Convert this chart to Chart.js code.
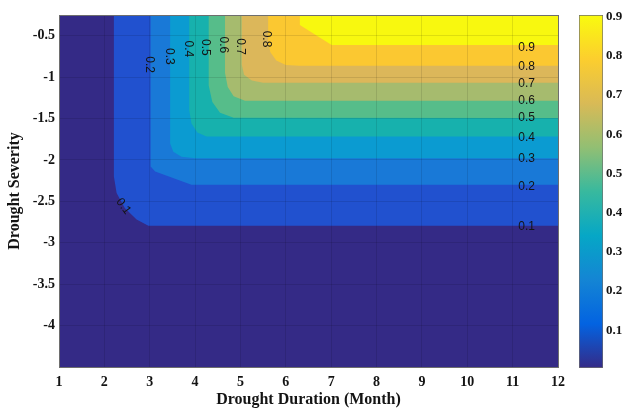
<!DOCTYPE html>
<html>
<head>
<meta charset="utf-8">
<script src="https://cdn.jsdelivr.net/npm/chart.js@4/dist/chart.umd.min.js"></script>
<style>
  html, body { margin: 0; padding: 0; background: #ffffff; }
  #wrap { position: relative; width: 627px; height: 410px; }
  #main { position: absolute; left: 0; top: 0; }
  #cbar { position: absolute; left: 560px; top: 0; }
</style>
</head>
<body>
<div id="wrap">
  <canvas id="main" width="627" height="410"></canvas>
  <canvas id="cbar" width="67" height="410"></canvas>
</div>
<script>
// ---------- axis limits and ticks ----------
const xMin = 1, xMax = 12;
const yMin = -4.5, yMax = -0.25;
const xTicks = [1, 2, 3, 4, 5, 6, 7, 8, 9, 10, 11, 12];
const yTicks = [-4, -3.5, -3, -2.5, -2, -1.5, -1, -0.5];

// ---------- contour levels ----------
const levels = [0.1, 0.2, 0.3, 0.4, 0.5, 0.6, 0.7, 0.8, 0.9];

// contour line vertices (x = duration, y = severity)
const contour01 = [[2.21, -0.25], [2.21, -2.20], [2.27, -2.40], [2.45, -2.58], [2.71, -2.72], [2.97, -2.796], [12, -2.796]];
const contour02 = [[3.02, -0.25], [3.02, -2.08], [3.12, -2.14], [3.92, -2.30], [12, -2.30]];
const contour03 = [[3.45, -0.25], [3.45, -1.80], [3.52, -1.90], [3.70, -1.96], [4.00, -1.98], [12, -1.98]];
const contour04 = [[3.87, -0.25], [3.87, -1.40], [3.92, -1.56], [4.05, -1.67], [4.25, -1.718], [12, -1.718]];
const contour05 = [[4.30, -0.25], [4.30, -1.10], [4.38, -1.30], [4.55, -1.43], [4.85, -1.49], [12, -1.493]];
const contour06 = [[4.66, -0.25], [4.66, -0.95], [4.72, -1.12], [4.85, -1.23], [5.10, -1.284], [12, -1.284]];
const contour07 = [[5.03, -0.25], [5.03, -0.85], [5.08, -0.97], [5.25, -1.04], [5.50, -1.067], [12, -1.067]];
const contour08 = [[5.61, -0.25], [5.61, -0.59], [5.66, -0.70], [5.79, -0.80], [6.00, -0.855], [6.30, -0.862], [12, -0.862]];
const contour09 = [[6.31, -0.25], [6.31, -0.37], [7.01, -0.612], [12, -0.612]];
const contours = [contour01, contour02, contour03, contour04, contour05, contour06, contour07, contour08, contour09];

// contour label positions (data coordinates)
const rightLabelX = 11.31;
const rightLabelY = [-2.804, -2.325, -1.987, -1.73, -1.493, -1.288, -1.083, -0.874, -0.645];
const topLabelLevels = [0.2, 0.3, 0.4, 0.5, 0.6, 0.7, 0.8];
const topLabelX = [2.99, 3.43, 3.85, 4.23, 4.62, 5.00, 5.56];
const topLabelY = [-0.85, -0.75, -0.66, -0.64, -0.61, -0.63, -0.54];
const cornerLabelLevel = 0.1;
const cornerLabelX = 2.42;
const cornerLabelY = -2.56;

// ---------- colour bar ----------
const cbMin = 0.004, cbMax = 0.904;
const cbTicks = [0.1, 0.2, 0.3, 0.4, 0.5, 0.6, 0.7, 0.8, 0.9];

// ---------- styles ----------
const baseColor = '#342a86';
const bandColors = ['#2151cf', '#1979d7', '#0b9bd1', '#17b1ad', '#56bd8a', '#a6bb6e', '#dcb75a', '#fbc831', '#f8f80f'];
const parulaStops = [[0, '#352a87'], [0.125, '#0363e1'], [0.25, '#1485d4'], [0.375, '#06a7c6'], [0.5, '#38b99e'], [0.625, '#92bf73'], [0.75, '#d9ba56'], [0.875, '#fcce2e'], [1, '#f9fb0e']];
const serifBold = '"Liberation Serif", "Times New Roman", serif';
const sansFont = '"Liberation Sans", Arial, sans-serif';
const gridColor = 'rgba(0,0,0,0.1)';
const axisColor = '#6e6e6e';
const textColor = '#141414';

// ---------- datasets ----------
const toPts = arr => arr.map(([x, y]) => ({ x, y }));
const datasets = [{
  label: 'base',
  data: toPts([[xMin, yMin], [xMax, yMin], [xMax, yMax], [xMin, yMax]]),
  showLine: true, fill: 'shape', backgroundColor: baseColor,
  borderWidth: 0, pointRadius: 0, order: 20
}];
contours.forEach((c, i) => {
  datasets.push({
    label: 'level ' + levels[i],
    data: toPts(c.concat([[xMax, yMax]])),
    showLine: true, fill: 'shape', backgroundColor: bandColors[i],
    borderWidth: 0, pointRadius: 0, order: 10 - i
  });
});

const labelPlugin = {
  id: 'contourLabels',
  afterDraw(chart) {
    const { ctx, scales: { x, y } } = chart;
    ctx.save();
    ctx.fillStyle = textColor;
    ctx.font = '12px ' + sansFont;
    ctx.textAlign = 'center';
    ctx.textBaseline = 'middle';
    levels.forEach((lv, i) => {
      ctx.fillText(lv.toFixed(1), x.getPixelForValue(rightLabelX), y.getPixelForValue(rightLabelY[i]));
    });
    topLabelLevels.forEach((lv, i) => {
      ctx.save();
      ctx.translate(x.getPixelForValue(topLabelX[i]), y.getPixelForValue(topLabelY[i]));
      ctx.rotate(Math.PI / 2);
      ctx.fillText(lv.toFixed(1), 0, 0);
      ctx.restore();
    });
    ctx.save();
    ctx.translate(x.getPixelForValue(cornerLabelX), y.getPixelForValue(cornerLabelY));
    ctx.rotate(Math.PI * 0.3);
    ctx.fillText(cornerLabelLevel.toFixed(1), 0, 0);
    ctx.restore();
    ctx.restore();
  }
};

const tickFont = { family: serifBold, size: 14, weight: 'bold' };
const titleFont = { family: serifBold, size: 16, weight: 'bold' };

new Chart(document.getElementById('main'), {
  type: 'scatter',
  data: { datasets },
  options: {
    responsive: false, animation: false, devicePixelRatio: 1,
    layout: { padding: { left: 0, top: 15, right: 69, bottom: 0 } },
    plugins: { legend: { display: false }, tooltip: { enabled: false } },
    scales: {
      x: {
        type: 'linear', position: 'bottom', min: xMin, max: xMax,
        afterBuildTicks: s => { s.ticks = xTicks.map(v => ({ value: v })); },
        afterFit: s => { s.height = 43; },
        ticks: { font: tickFont, color: textColor, padding: 7, maxRotation: 0, autoSkip: false, callback: v => String(v) },
        grid: { color: gridColor, drawTicks: false, z: 1 },
        border: { color: axisColor, z: 2 },
        title: { display: true, text: 'Drought Duration (Month)', font: titleFont, color: textColor, padding: { top: 0, bottom: 1 } }
      },
      y: {
        type: 'linear', position: 'left', min: yMin, max: yMax,
        afterBuildTicks: s => { s.ticks = yTicks.map(v => ({ value: v })); },
        afterFit: s => { s.width = 59; },
        ticks: { font: tickFont, color: textColor, padding: 4, autoSkip: false, callback: v => String(v) },
        grid: { color: gridColor, drawTicks: false, z: 1 },
        border: { color: axisColor, z: 2 },
        title: { display: true, text: 'Drought Severity', font: titleFont, color: textColor, padding: { top: 5, bottom: 0 } }
      },
      x2: {
        type: 'linear', position: 'top', min: xMin, max: xMax,
        afterFit: s => { s.height = 0; },
        ticks: { display: false }, grid: { display: false, drawTicks: false },
        border: { display: true, color: axisColor, z: 2 }
      },
      y2: {
        type: 'linear', position: 'right', min: yMin, max: yMax,
        afterFit: s => { s.width = 0; },
        ticks: { display: false }, grid: { display: false, drawTicks: false },
        border: { display: true, color: axisColor, z: 2 }
      }
    }
  },
  plugins: [labelPlugin]
});

// ---------- colour bar chart ----------
new Chart(document.getElementById('cbar'), {
  type: 'bar',
  data: {
    labels: [''],
    datasets: [{
      data: [[cbMin, cbMax]],
      backgroundColor: (c) => {
        const ch = c.chart;
        if (!ch.chartArea) return parulaStops[0][1];
        const ys = ch.scales.y;
        const g = ch.ctx.createLinearGradient(0, ys.getPixelForValue(cbMin), 0, ys.getPixelForValue(cbMax));
        parulaStops.forEach(([t, col]) => g.addColorStop(t, col));
        return g;
      },
      borderColor: axisColor, borderWidth: 1, borderSkipped: false,
      barPercentage: 1, categoryPercentage: 1
    }]
  },
  options: {
    responsive: false, animation: false, devicePixelRatio: 1,
    layout: { padding: { left: 19, top: 15, right: 0, bottom: 42 } },
    plugins: { legend: { display: false }, tooltip: { enabled: false } },
    scales: {
      x: { display: false },
      y: {
        position: 'right', min: cbMin, max: cbMax,
        afterBuildTicks: s => { s.ticks = cbTicks.map(v => ({ value: v })); },
        afterFit: s => { s.width = 24; },
        ticks: { font: { family: serifBold, size: 13, weight: 'bold' }, color: textColor, padding: 3, callback: v => v.toFixed(1) },
        grid: { display: false, drawTicks: false },
        border: { display: false }
      }
    }
  }
});
</script>
</body>
</html>
